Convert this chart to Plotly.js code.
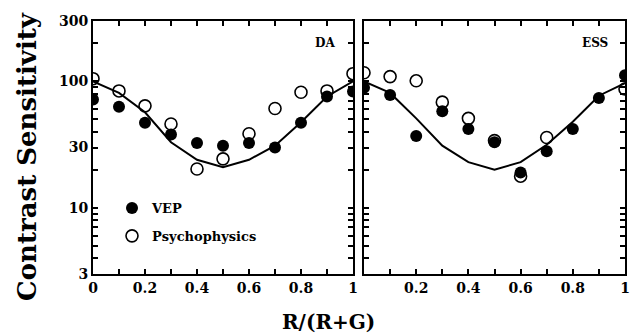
<!DOCTYPE html>
<html>
<head>
<meta charset="utf-8">
<script src="https://cdn.plot.ly/plotly-3.0.1.min.js"></script>
<style>html,body{margin:0;padding:0;background:#fff;}#chart{width:631px;height:335px;}</style>
</head>
<body>
<div id="chart"></div>
<script>
// Data
const ratio = [0, 0.1, 0.2, 0.3, 0.4, 0.5, 0.6, 0.7, 0.8, 0.9, 1.0];

// Panel DA
const daVEP   = [72, 63, 47, 38, 32.5, 31, 32.5, 30, 47, 76, 83];
const daPsy   = [105, 84, 64, 46, 20.3, 24.4, 38.5, 61, 82, 84, 115];
const daModel = [100, 81, 57, 33, 24, 21, 24, 31, 47.5, 76, 100];

// Panel ESS
const essVEP   = [89, 78, 37, 58, 42, 33, 19, 28, 42, 74, 112];
const essPsy   = [117, 109, 101, 68.5, 51, 34, 17.8, 36, null, null, 87];
const essModel = [100, 81, 51, 31, 23, 20, 23, 31.5, 48, 77, 97];

// Tick positions and labels
const yTickVals = [3,4,5,6,7,8,9,10,20,30,40,50,60,70,80,90,100,200,300];
const yTickText = ['3','','','','','','','10','','30','','','','','','','100','','300'];
const xTickVals  = [0, 0.1, 0.2, 0.3, 0.4, 0.5, 0.6, 0.7, 0.8, 0.9, 1];
const xTickTextL = ['0', '', '0.2', '', '0.4', '', '0.6', '', '0.8', '', '1'];
const xTickTextR = ['', '', '0.2', '', '0.4', '', '0.6', '', '0.8', '', '1'];

const FONT = 'DejaVu Serif, Liberation Serif, serif';
const W = 631, H = 335;

function lineTrace(y, xa, ya) {
  return {x: ratio, y: y, xaxis: xa, yaxis: ya, type: 'scatter', mode: 'lines',
    line: {color: '#000', width: 2}, showlegend: false, hoverinfo: 'skip'};
}
function openTrace(y, xa, ya, show) {
  return {x: ratio, y: y, xaxis: xa, yaxis: ya, type: 'scatter', mode: 'markers',
    name: 'Psychophysics', legendgroup: 'psy', legendrank: 2, showlegend: show,
    marker: {symbol: 'circle-open', size: 12, color: '#000', line: {color: '#000', width: 1.6}}};
}
function filledTrace(y, xa, ya, show) {
  return {x: ratio, y: y, xaxis: xa, yaxis: ya, type: 'scatter', mode: 'markers',
    name: 'VEP', legendgroup: 'vep', legendrank: 1, showlegend: show,
    marker: {symbol: 'circle', size: 12, color: '#000', line: {color: '#000', width: 0}}};
}
const traces = [
  lineTrace(daModel, 'x', 'y'), openTrace(daPsy, 'x', 'y', true), filledTrace(daVEP, 'x', 'y', true),
  lineTrace(essModel, 'x2', 'y2'), openTrace(essPsy, 'x2', 'y2', false), filledTrace(essVEP, 'x2', 'y2', false)
];

const tickFont = {family: FONT, size: 14, color: '#000', weight: 'bold'};
function xAxis(domain, texts, anchor) {
  return {domain: domain, anchor: anchor, range: [0, 1], tickmode: 'array', tickvals: xTickVals, ticktext: texts,
    ticks: 'inside', ticklen: 5, tickwidth: 1.5, tickcolor: '#000',
    showline: true, linecolor: '#000', linewidth: 2, mirror: 'ticks',
    showgrid: false, zeroline: false, tickfont: tickFont};
}
function yAxis(domain, showLabels, anchor) {
  return {domain: domain, anchor: anchor, type: 'log', range: [Math.log10(3), Math.log10(300)],
    tickmode: 'array', tickvals: yTickVals, ticktext: yTickText, showticklabels: showLabels,
    ticks: 'inside', ticklen: 5, tickwidth: 1.5, tickcolor: '#000',
    showline: true, linecolor: '#000', linewidth: 2, mirror: 'ticks',
    showgrid: false, zeroline: false, tickfont: tickFont};
}

const yDom = [1 - 274 / H, 1 - 21 / H];
const layout = {
  width: W, height: H, margin: {l: 0, r: 0, t: 0, b: 0, pad: 0},
  paper_bgcolor: '#fff', plot_bgcolor: '#fff', font: {family: FONT, color: '#000'},
  xaxis: xAxis([93 / W, 353 / W], xTickTextL, 'y'), yaxis: yAxis(yDom, true, 'x'),
  xaxis2: xAxis([364 / W, 625 / W], xTickTextR, 'y2'), yaxis2: yAxis(yDom, false, 'x2'),
  showlegend: true,
  legend: {x: 112 / W, y: 1 - 193 / H, xanchor: 'left', yanchor: 'top', bgcolor: 'rgba(0,0,0,0)', borderwidth: 0,
    traceorder: 'grouped', tracegroupgap: 8, font: {family: FONT, size: 13, color: '#000', weight: 'bold'}},
  annotations: [
    {text: 'DA', xref: 'paper', yref: 'paper', x: 325 / W, y: 1 - 43 / H, showarrow: false,
     xanchor: 'center', yanchor: 'middle',
     font: {family: FONT, size: 12, color: '#000', weight: 'bold'}},
    {text: 'ESS', xref: 'paper', yref: 'paper', x: 595 / W, y: 1 - 43 / H, showarrow: false,
     xanchor: 'center', yanchor: 'middle',
     font: {family: FONT, size: 12, color: '#000', weight: 'bold'}},
    {text: 'Contrast Sensitivity', xref: 'paper', yref: 'paper', x: 27 / W, y: 1 - 157 / H, showarrow: false,
     xanchor: 'center', yanchor: 'middle', textangle: -90,
     font: {family: FONT, size: 26, color: '#000', weight: 'bold'}},
    {text: 'R/(R+G)', xref: 'paper', yref: 'paper', x: 328 / W, y: 1 - 322 / H, showarrow: false,
     xanchor: 'center', yanchor: 'middle',
     font: {family: FONT, size: 20, color: '#000', weight: 'bold'}}
  ]
};

Plotly.newPlot('chart', traces, layout, {displayModeBar: false});
</script>
</body>
</html>
